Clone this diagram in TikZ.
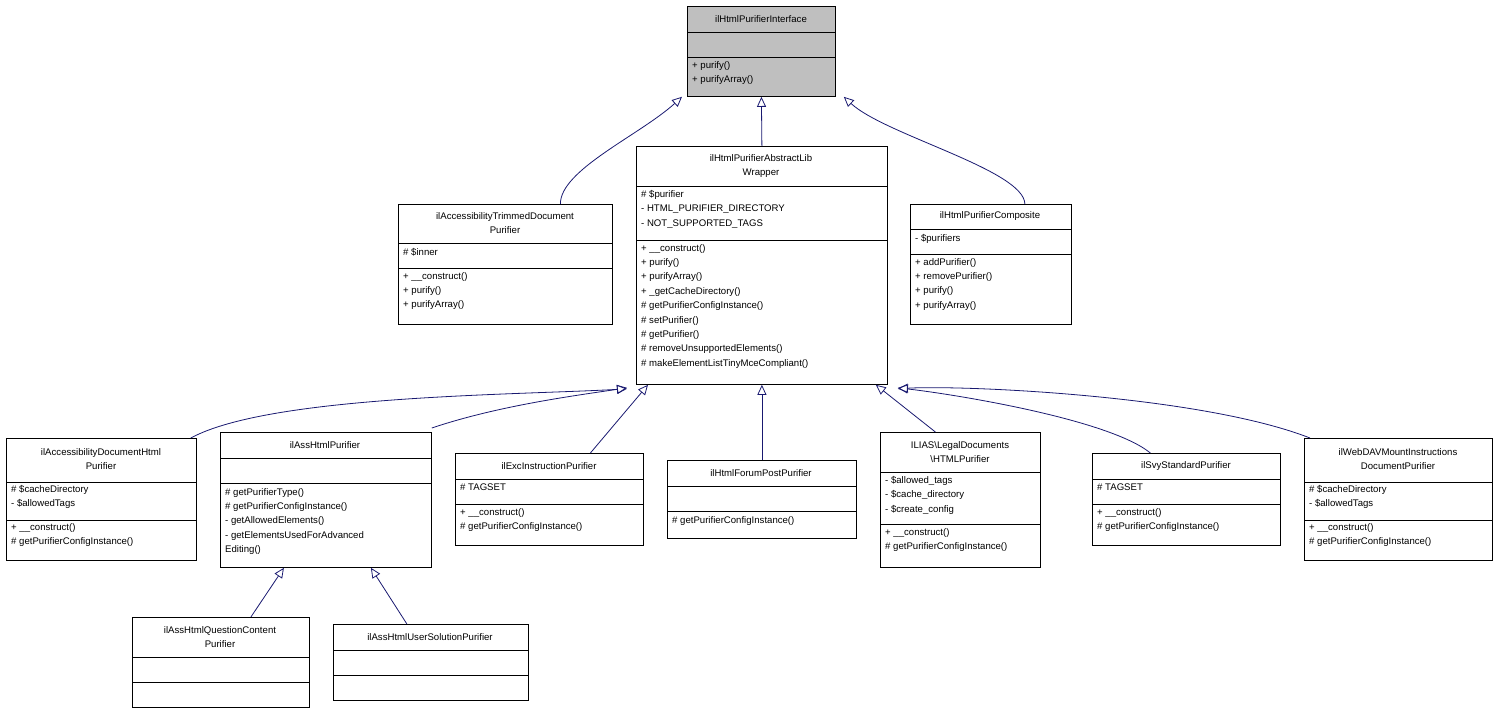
\documentclass[tikz,border=0pt]{standalone}
\usepackage{fontspec}
\setmainfont{Liberation Sans}
\usetikzlibrary{arrows.meta}
\begin{document}
\begin{tikzpicture}[x=1pt,y=-1pt,
  txt/.style={inner sep=0pt,font=\fontsize{9.6}{14.4}\selectfont,align=left},
  ttl/.style={inner sep=0pt,font=\fontsize{9.6}{14.4}\selectfont,align=center},
  ed/.style={draw=edgec,line width=0.8pt,-{Triangle[open,length=10pt,width=9pt]}},
  ln/.style={line width=0.8pt}]
\definecolor{edgec}{HTML}{191970}
\useasboundingbox (0,0) rectangle (1497,713);
% box macro: name, x1,y1,x2,y2, fill
\newcommand\ubox[6]{%
  \pgfmathsetmacro\ww{#4-#2}\pgfmathsetmacro\hh{#5-#3}%
  \node[draw,line width=0.8pt,fill=#6,inner sep=0pt,anchor=north west,minimum width=\ww pt,minimum height=\hh pt] (#1) at (#2,#3) {};}
\newcommand\sep[3]{\draw[ln] (#1,#3) -- (#2,#3);}
% Interface
\ubox{iface}{687}{6}{835}{96}{gray!50}
\sep{687}{835}{32}\sep{687}{835}{57}
\node[ttl] at (761,19) {ilHtmlPurifierInterface};
\node[txt,anchor=north west] at (692,61) {+ purify()\\+ purifyArray()};
% Wrapper
\ubox{wrap}{636}{146}{887}{384}{white}
\sep{636}{887}{186}\sep{636}{887}{240}
\node[ttl] at (761,166) {ilHtmlPurifierAbstractLib\\Wrapper};
\node[txt,anchor=north west] at (641,190) {\# \$purifier\\- HTML\_PURIFIER\_DIRECTORY\\- NOT\_SUPPORTED\_TAGS};
\node[txt,anchor=north west] at (641,244) {+ \_\_construct()\\+ purify()\\+ purifyArray()\\+ \_getCacheDirectory()\\\# getPurifierConfigInstance()\\\# setPurifier()\\\# getPurifier()\\\# removeUnsupportedElements()\\\# makeElementListTinyMceCompliant()};
% Trimmed
\ubox{trim}{398}{204}{612}{324}{white}
\sep{398}{612}{243}\sep{398}{612}{268}
\node[ttl] at (505,223) {ilAccessibilityTrimmedDocument\\Purifier};
\node[txt,anchor=north west] at (403,248) {\# \$inner};
\node[txt,anchor=north west] at (403,272) {+ \_\_construct()\\+ purify()\\+ purifyArray()};
% Composite
\ubox{comp}{910}{204}{1071}{324}{white}
\sep{910}{1071}{229}\sep{910}{1071}{254}
\node[ttl] at (990,216) {ilHtmlPurifierComposite};
\node[txt,anchor=north west] at (915,234) {- \$purifiers};
\node[txt,anchor=north west] at (915,258) {+ addPurifier()\\+ removePurifier()\\+ purify()\\+ purifyArray()};
% AccessibilityDocument
\ubox{accd}{6}{438}{196}{560}{white}
\sep{6}{196}{482}\sep{6}{196}{520}
\node[ttl] at (101,459) {ilAccessibilityDocumentHtml\\Purifier};
\node[txt,anchor=north west] at (11,485) {\# \$cacheDirectory\\- \$allowedTags};
\node[txt,anchor=north west] at (11,523) {+ \_\_construct()\\\# getPurifierConfigInstance()};
% AssHtml
\ubox{ass}{220}{432}{431}{567}{white}
\sep{220}{431}{458}\sep{220}{431}{483}
\node[ttl] at (325,445) {ilAssHtmlPurifier};
\node[txt,anchor=north west] at (225,488) {\# getPurifierType()\\\# getPurifierConfigInstance()\\- getAllowedElements()\\- getElementsUsedForAdvanced\\Editing()};
% Exc
\ubox{exc}{455}{453}{643}{545}{white}
\sep{455}{643}{479}\sep{455}{643}{504}
\node[ttl] at (549,466) {ilExcInstructionPurifier};
\node[txt,anchor=north west] at (460,484) {\# TAGSET};
\node[txt,anchor=north west] at (460,508) {+ \_\_construct()\\\# getPurifierConfigInstance()};
% Forum
\ubox{forum}{667}{460}{856}{538}{white}
\sep{667}{856}{486}\sep{667}{856}{511}
\node[ttl] at (761,473) {ilHtmlForumPostPurifier};
\node[txt,anchor=north west] at (672,516) {\# getPurifierConfigInstance()};
% Legal
\ubox{legal}{880}{432}{1040}{567}{white}
\sep{880}{1040}{472}\sep{880}{1040}{524}
\node[ttl] at (960,452) {ILIAS\textbackslash LegalDocuments\\\textbackslash HTMLPurifier};
\node[txt,anchor=north west] at (885,476) {- \$allowed\_tags\\- \$cache\_directory\\- \$create\_config};
\node[txt,anchor=north west] at (885,528) {+ \_\_construct()\\\# getPurifierConfigInstance()};
% Svy
\ubox{svy}{1092}{453}{1280}{545}{white}
\sep{1092}{1280}{479}\sep{1092}{1280}{504}
\node[ttl] at (1186,466) {ilSvyStandardPurifier};
\node[txt,anchor=north west] at (1097,484) {\# TAGSET};
\node[txt,anchor=north west] at (1097,508) {+ \_\_construct()\\\# getPurifierConfigInstance()};
% WebDAV
\ubox{webdav}{1304}{438}{1492}{560}{white}
\sep{1304}{1492}{482}\sep{1304}{1492}{520}
\node[ttl] at (1398,459) {ilWebDAVMountInstructions\\DocumentPurifier};
\node[txt,anchor=north west] at (1309,485) {\# \$cacheDirectory\\- \$allowedTags};
\node[txt,anchor=north west] at (1309,523) {+ \_\_construct()\\\# getPurifierConfigInstance()};
% Question content
\ubox{qc}{132}{617}{309}{707}{white}
\sep{132}{309}{657}\sep{132}{309}{682}
\node[ttl] at (220,637) {ilAssHtmlQuestionContent\\Purifier};
% User solution
\ubox{us}{333}{624}{528}{700}{white}
\sep{333}{528}{650}\sep{333}{528}{675}
\node[ttl] at (430,637) {ilAssHtmlUserSolutionPurifier};
% Edges
\draw[ed] (trim.north) ++(55,0) .. controls (560,170) and (640,135) .. ([xshift=-5pt]iface.south west);
\draw[ed] (wrap.north) -- (iface.south);
\draw[ed] (comp.north) ++(34,0) .. controls (1024,170) and (885,135) .. ([xshift=8pt]iface.south east);
\draw[ed] ([xshift=-6pt]accd.north east) .. controls (270,395) and (520,395) .. ([xshift=-9pt,yshift=-4pt]wrap.south west);
\draw[ed] ([yshift=4pt]ass.north east) .. controls (500,405) and (580,395) .. ([xshift=-9pt,yshift=-3pt]wrap.south west);
\draw[ed] ([xshift=41pt]exc.north) -- ([xshift=12pt]wrap.south west);
\draw[ed] (forum.north) -- (wrap.south);
\draw[ed] ([xshift=-25pt]legal.north) -- ([xshift=-12pt]wrap.south east);
\draw[ed] ([xshift=-36pt]svy.north) .. controls (1110,420) and (960,395) .. ([xshift=10pt,yshift=-3pt]wrap.south east);
\draw[ed] ([xshift=6pt]webdav.north west) .. controls (1200,395) and (960,385) .. ([xshift=10pt,yshift=-4pt]wrap.south east);
\draw[ed] ([xshift=30pt]qc.north) -- ([xshift=-42pt]ass.south);
\draw[ed] ([xshift=-24pt]us.north) -- ([xshift=45pt]ass.south);
\end{tikzpicture}
\end{document}
